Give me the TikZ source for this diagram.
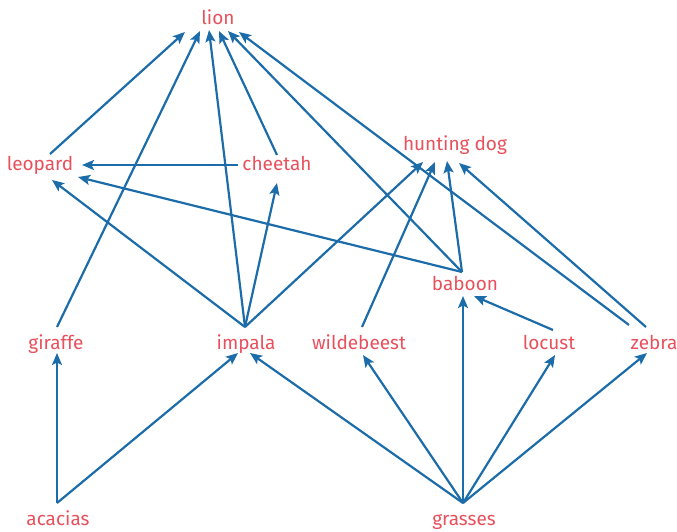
\documentclass[tikz,border=0pt]{standalone}
\usepackage{fontspec}
\setmainfont{Fira Sans}
\usetikzlibrary{arrows.meta}
\definecolor{lbl}{RGB}{232,80,92}
\definecolor{arc}{RGB}{28,108,170}
\begin{document}
\begin{tikzpicture}[x=1pt,y=-1pt,
  lab/.style={anchor=base,text=lbl,font=\fontsize{19}{22}\selectfont,inner sep=0pt},
  edge/.style={draw=arc,line width=2.2pt,-{Stealth[length=12pt,width=10pt,inset=2.5pt]}}]
\useasboundingbox (0,0) rectangle (677,531);
\node[lab] (lion) at (218,24) {lion};
\node[lab] (leopard) at (40,170) {leopard};
\node[lab] (cheetah) at (277,170) {cheetah};
\node[lab] (hunt) at (455,150) {hunting dog};
\node[lab] (baboon) at (465,290) {baboon};
\node[lab] (giraffe) at (56,349) {giraffe};
\node[lab] (impala) at (246,349) {impala};
\node[lab] (wild) at (359,349) {wildebeest};
\node[lab] (locust) at (549,349) {locust};
\node[lab] (zebra) at (654,349) {zebra};
\node[lab] (acacias) at (58,525) {acacias};
\node[lab] (grasses) at (464,525) {grasses};
% into lion
\draw[edge] ([shift={(10,-16)}]leopard.base) -- ([shift={(-33,8)}]lion.base);
\draw[edge] ([shift={(1,-22)}]giraffe.base) -- ([shift={(-18,7)}]lion.base);
\draw[edge] ([shift={(-1,-22)}]impala.base) -- ([shift={(-9,6)}]lion.base);
\draw[edge] ([shift={(0,-15)}]cheetah.base) -- ([shift={(1,7)}]lion.base);
\draw[edge] ([shift={(-3,-18)}]baboon.base) -- ([shift={(10,7)}]lion.base);
\draw[edge] ([shift={(-25,-24)}]zebra.base) -- ([shift={(21,8)}]lion.base);
% into hunting dog
\draw[edge] ([shift={(-1,-22)}]impala.base) -- ([shift={(-32,12)}]hunt.base);
\draw[edge] ([shift={(3,-22)}]wild.base) -- ([shift={(-20,12)}]hunt.base);
\draw[edge] ([shift={(-3,-18)}]baboon.base) -- ([shift={(-8,11)}]hunt.base);
\draw[edge] ([shift={(-8,-22)}]zebra.base) -- ([shift={(4,13)}]hunt.base);
% into leopard
\draw[edge] ([shift={(-39,-5)}]cheetah.base) -- ([shift={(42,-5)}]leopard.base);
\draw[edge] ([shift={(-3,-18)}]baboon.base) -- ([shift={(38,7)}]leopard.base);
\draw[edge] ([shift={(-1,-22)}]impala.base) -- ([shift={(12,10)}]leopard.base);
% into cheetah
\draw[edge] ([shift={(-1,-22)}]impala.base) -- ([shift={(0,13)}]cheetah.base);
% into baboon
\draw[edge] ([shift={(-1,-22)}]grasses.base) -- ([shift={(-2,6)}]baboon.base);
\draw[edge] ([shift={(4,-19)}]locust.base) -- ([shift={(9,6)}]baboon.base);
% bottom layer
\draw[edge] ([shift={(-1,-22)}]acacias.base) -- ([shift={(1,4)}]giraffe.base);
\draw[edge] ([shift={(-1,-22)}]acacias.base) -- ([shift={(-8,4)}]impala.base);
\draw[edge] ([shift={(-1,-22)}]grasses.base) -- ([shift={(4,4)}]impala.base);
\draw[edge] ([shift={(-1,-22)}]grasses.base) -- ([shift={(4,6)}]wild.base);
\draw[edge] ([shift={(-1,-22)}]grasses.base) -- ([shift={(6,6)}]locust.base);
\draw[edge] ([shift={(-1,-22)}]grasses.base) -- ([shift={(-7,4)}]zebra.base);
\end{tikzpicture}
\end{document}
